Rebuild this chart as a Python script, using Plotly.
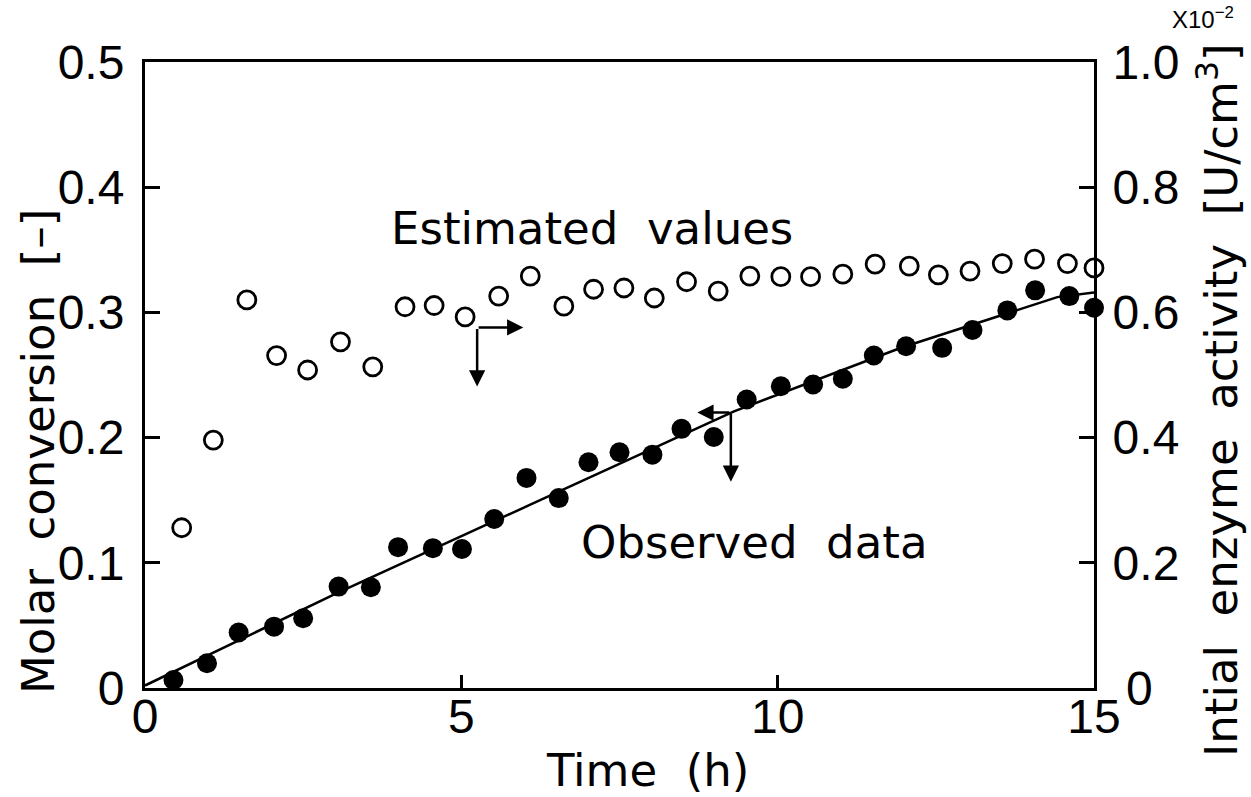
import plotly.graph_objects as go

# Observed data (filled circles) - Molar conversion [-], left axis
obs_t = [0.45, 0.98, 1.48, 2.04, 2.50, 3.06, 3.57, 4.00, 4.55, 5.01, 5.52, 6.03, 6.54, 7.01, 7.50,
         8.02, 8.48, 8.99, 9.51, 10.05, 10.56, 11.03, 11.52, 12.03, 12.60, 13.08, 13.63, 14.07, 14.61, 15.0]
obs_y = [0.0064, 0.0198, 0.0443, 0.049, 0.0557, 0.081, 0.0805, 0.1125, 0.1117, 0.111, 0.135, 0.1678,
         0.1517, 0.1803, 0.1883, 0.1864, 0.207, 0.2005, 0.2304, 0.241, 0.2424, 0.247, 0.2656, 0.273,
         0.2717, 0.2859, 0.3016, 0.3176, 0.313, 0.3037]

# Estimated values (open circles) - Initial enzyme activity x10^-2 [U/cm3], right axis
est_t = [0.58, 1.08, 1.61, 2.08, 2.57, 3.09, 3.60, 4.11, 4.57, 5.06, 5.59, 6.09, 6.62, 7.09, 7.57,
         8.05, 8.56, 9.06, 9.56, 10.05, 10.52, 11.03, 11.54, 12.08, 12.54, 13.04, 13.55, 14.06, 14.58, 15.0]
est_y = [0.256, 0.396, 0.620, 0.531, 0.508, 0.553, 0.513, 0.609, 0.611, 0.593, 0.626, 0.658, 0.610,
         0.637, 0.639, 0.623, 0.649, 0.634, 0.658, 0.657, 0.657, 0.661, 0.677, 0.674, 0.660, 0.666,
         0.678, 0.685, 0.678, 0.671]

# Fitted curve for molar conversion
fit_t = [0, 3.0, 6.09, 9.31, 11.95, 14.42, 15.0]
fit_y = [0.002, 0.075, 0.1464, 0.221, 0.2718, 0.3122, 0.316]

x_ticks = [0, 5, 10, 15]
x_ticktext = ["0", "5", "10", "15"]
y1_ticks = [0, 0.1, 0.2, 0.3, 0.4, 0.5]
y1_ticktext = ["0", "0.1", "0.2", "0.3", "0.4", "0.5"]
y2_ticks = [0, 0.2, 0.4, 0.6, 0.8, 1.0]
y2_ticktext = ["&nbsp;0", "0.2", "0.4", "0.6", "0.8", "1.0"]

TICKFONT = dict(family="Liberation Sans, Arial, sans-serif", size=48, color="black")
TEXTFONT = dict(family="DejaVu Sans, sans-serif", size=45, color="black")

fig = go.Figure()
fig.add_trace(go.Scatter(x=fit_t, y=fit_y, mode="lines", line=dict(color="black", width=2.5),
                         showlegend=False, hoverinfo="skip"))
fig.add_trace(go.Scatter(x=obs_t, y=obs_y, mode="markers",
                         marker=dict(symbol="circle", size=20, color="black"),
                         showlegend=False, cliponaxis=False))
fig.add_trace(go.Scatter(x=est_t, y=est_y, mode="markers", yaxis="y2",
                         marker=dict(symbol="circle-open", size=18, color="black", line=dict(width=2.8)),
                         showlegend=False, cliponaxis=False))

W, H = 1251, 797
L, R, T, B = 145, 157, 62, 109
pw, ph = W - L - R, H - T - B


def px(x):
    return (x - L) / pw


def py(y):
    return (H - B - y) / ph


ann = []
C = dict(xanchor="center", yanchor="middle", showarrow=False)
ann.append(dict(text="Estimated&nbsp;&nbsp;values", x=7.07, y=0.367, xref="x", yref="y",
                font=TEXTFONT, **C))
ann.append(dict(text="Observed&nbsp;&nbsp;data", x=9.62, y=0.116, xref="x", yref="y",
                font=TEXTFONT, **C))
ann.append(dict(text="Molar&nbsp;&nbsp;conversion&nbsp;&nbsp;[\u2013]", x=px(38), y=py(452),
                xref="paper", yref="paper", textangle=-90, font=TEXTFONT, **C))
ann.append(dict(text="Time&nbsp;&nbsp;(h)", x=px(647), y=py(770), xref="paper", yref="paper",
                font=TEXTFONT, **C))
ann.append(dict(text="Intial&nbsp;&nbsp;enzyme&nbsp;&nbsp;activity&nbsp;&nbsp;[U/cm<sup>3</sup>]",
                x=px(1218), y=py(400), xref="paper", yref="paper",
                textangle=-90, font=TEXTFONT, **C))
ann.append(dict(text="X10<sup>\u22122</sup>", x=px(1203), y=py(18), xref="paper", yref="paper",
                font=dict(family=TICKFONT["family"], size=24, color="black"), **C))

# L-shaped arrows
arrow_style = dict(showarrow=True, arrowhead=2, arrowsize=1.3, arrowwidth=2.5, arrowcolor="black",
                   text="", xref="x", yref="y", axref="x", ayref="y")
ann.append(dict(x=5.98, y=0.288, ax=5.25, ay=0.288, **arrow_style))
ann.append(dict(x=5.25, y=0.2408, ax=5.25, ay=0.288, **arrow_style))
ann.append(dict(x=8.73, y=0.22, ax=9.26, ay=0.22, **arrow_style))
ann.append(dict(x=9.26, y=0.1648, ax=9.26, ay=0.22, **arrow_style))

fig.update_layout(
    width=W, height=H,
    margin=dict(l=L, r=R, t=T, b=B),
    paper_bgcolor="white", plot_bgcolor="white",
    annotations=ann,
    xaxis=dict(range=[0, 15], tickvals=x_ticks, ticktext=x_ticktext, ticks="inside", ticklen=13,
               tickwidth=3, tickcolor="black", showline=True, linecolor="black", linewidth=3,
               mirror=True, showgrid=False, zeroline=False, tickfont=TICKFONT, ticklabelstandoff=-16),
    yaxis=dict(range=[0, 0.5], tickvals=y1_ticks, ticktext=y1_ticktext, ticks="inside", ticklen=15,
               tickwidth=3, tickcolor="black", showline=True, linecolor="black", linewidth=3,
               showgrid=False, zeroline=False, tickfont=TICKFONT, ticklabelstandoff=8),
    yaxis2=dict(range=[0, 1.0], tickvals=y2_ticks, ticktext=y2_ticktext, ticks="inside", ticklen=15,
                tickwidth=3, tickcolor="black", showline=True, linecolor="black", linewidth=3,
                overlaying="y", side="right", showgrid=False, zeroline=False, tickfont=TICKFONT,
                ticklabelstandoff=6),
)

fig.write_html("out.html")
